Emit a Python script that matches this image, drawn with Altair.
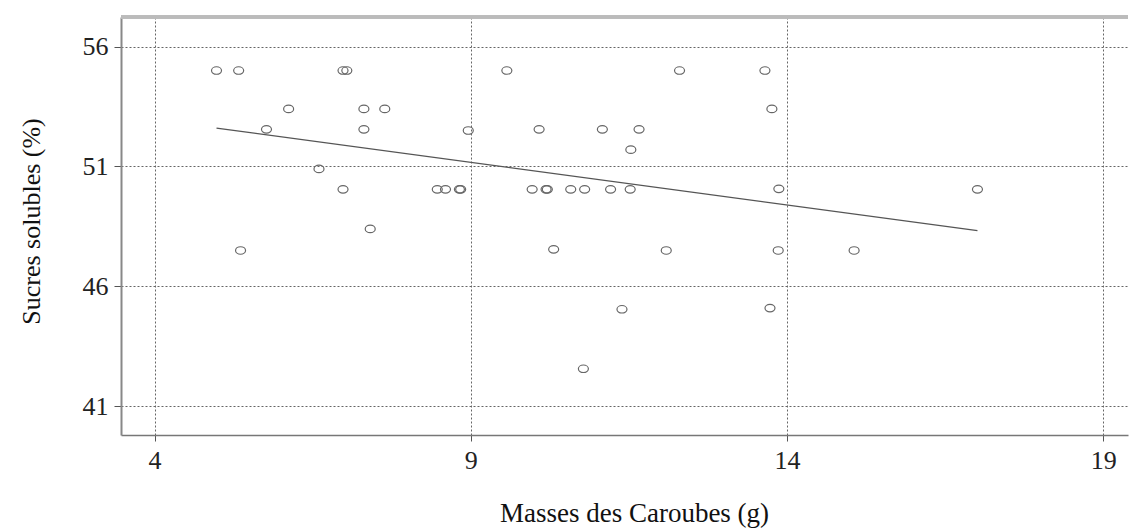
import altair as alt
import pandas as pd

# Scatter points (mass in g, soluble sugars in %)
mass = [4.98, 5.33, 6.98, 7.04, 9.57, 12.30, 13.65,
        6.12, 7.31, 7.64, 13.76,
        5.77, 7.31, 8.96, 10.08, 11.08, 11.66,
        11.53,
        6.60,
        6.98, 8.47, 8.60, 8.82, 8.84, 9.97, 10.19, 10.21, 10.58, 10.80, 11.21, 11.52, 13.87, 17.01,
        7.41,
        5.36, 10.31, 12.09, 13.86, 15.06,
        11.39, 13.73,
        10.78]
sugar = [55.0, 55.0, 55.0, 55.0, 55.0, 55.0, 55.0,
         53.4, 53.4, 53.4, 53.4,
         52.55, 52.55, 52.5, 52.55, 52.55, 52.55,
         51.7,
         50.9,
         50.05, 50.05, 50.05, 50.05, 50.05, 50.05, 50.05, 50.05, 50.05, 50.05, 50.05, 50.05, 50.07, 50.05,
         48.4,
         47.5, 47.55, 47.5, 47.5, 47.5,
         45.05, 45.1,
         42.57]

# Fitted regression line (end points)
fit_mass = [4.98, 17.01]
fit_sugar = [52.6, 48.33]

x_ticks = [4, 9, 14, 19]
y_ticks = [41, 46, 51, 56]

pts = pd.DataFrame({"mass": mass, "sugar": sugar})
fit = pd.DataFrame({"mass": fit_mass, "sugar": fit_sugar})

FONT = "Liberation Serif"
W, H = 1007, 418
X_DOMAIN = [3.47, 19.39]
Y_DOMAIN = [39.81, 57.23]

xscale = alt.Scale(domain=X_DOMAIN, nice=False, zero=False)
yscale = alt.Scale(domain=Y_DOMAIN, nice=False, zero=False)

xaxis = alt.Axis(values=x_ticks, format="d", title="Masses des Caroubes (g)", grid=True,
                 gridDash=[2, 2], gridColor="#666", gridWidth=1,
                 domainColor="#777", domainWidth=1.6,
                 tickColor="#555", tickSize=6, tickWidth=1,
                 labelFont=FONT, labelFontSize=26, labelColor="#222",
                 labelPadding=6, labelBaseline="top",
                 titleFont=FONT, titleFontSize=27, titleFontWeight="normal",
                 titleColor="#111", titleX=513, titleY=86,
                 titleAlign="center", titleBaseline="alphabetic")
yaxis = alt.Axis(values=y_ticks, format="d", title="Sucres solubles (%)", grid=True,
                 gridDash=[2, 2], gridColor="#666", gridWidth=1,
                 domainColor="#888", domainWidth=2,
                 tickColor="#555", tickSize=7, tickWidth=1,
                 labelFont=FONT, labelFontSize=26, labelColor="#222",
                 labelPadding=6,
                 titleFont=FONT, titleFontSize=26, titleFontWeight="normal",
                 titleColor="#111", titleX=-82, titleY=204, titleAngle=270,
                 titleAlign="center", titleBaseline="alphabetic")

ellipse = "M-1,0A1,0.75,0,1,1,1,0A1,0.75,0,1,1,-1,0Z"

points = alt.Chart(pts).mark_point(
    shape=ellipse, size=100, filled=False, stroke="#666", strokeWidth=1.2, opacity=1
).encode(
    x=alt.X("mass:Q", scale=xscale, axis=xaxis),
    y=alt.Y("sugar:Q", scale=yscale, axis=yaxis),
)

line = alt.Chart(fit).mark_line(color="#555", strokeWidth=1.3).encode(
    x=alt.X("mass:Q", scale=xscale),
    y=alt.Y("sugar:Q", scale=yscale),
)

top_frame = alt.Chart(pts).mark_rule(color="#bbb", strokeWidth=2.5).encode(
    x=alt.value(0), x2=alt.value(W), y=alt.value(0)
)

chart = alt.layer(line, points, top_frame).properties(
    width=W, height=H,
    autosize=alt.AutoSizeParams(type="none"),
    padding={"left": 121, "top": 17, "right": 1, "bottom": 93},
    background="white",
).configure_view(stroke=None)

chart.save("out.html", embed_options={"renderer": "svg", "actions": False})
